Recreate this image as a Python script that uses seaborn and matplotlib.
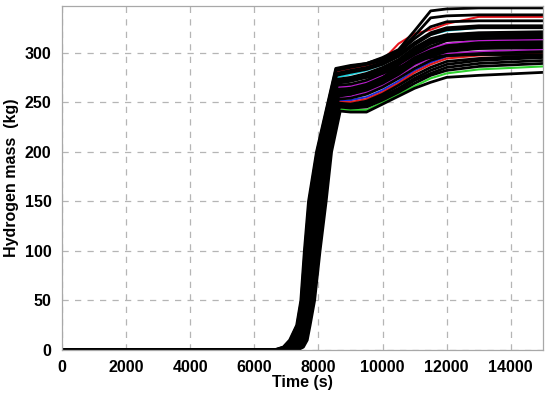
import numpy as np
import pandas as pd
import matplotlib
matplotlib.use("Agg")
import matplotlib.pyplot as plt
import seaborn as sns

# ── Data ──────────────────────────────────────────────────────────────────────
# mass levels crossed during the fast rise, and the time each run crosses them
RISE_MASS = [0, 3, 10, 25, 50, 100, 150, 200]
RISE_TIME = [
    [6600, 6900, 7100, 7320, 7450, 7560, 7690, 7940],
    [6630, 6925, 7122, 7337, 7467, 7580, 7712, 7959],
    [6660, 6950, 7144, 7354, 7484, 7599, 7734, 7978],
    [6690, 6976, 7166, 7370, 7502, 7619, 7756, 7996],
    [6720, 7001, 7188, 7387, 7519, 7638, 7778, 8015],
    [6750, 7026, 7210, 7404, 7536, 7658, 7800, 8034],
    [6780, 7051, 7232, 7421, 7553, 7678, 7822, 8053],
    [6810, 7076, 7254, 7438, 7570, 7697, 7844, 8072],
    [6840, 7102, 7276, 7454, 7588, 7717, 7866, 8090],
    [6870, 7127, 7298, 7471, 7605, 7736, 7888, 8109],
    [6900, 7152, 7320, 7488, 7622, 7756, 7910, 8128],
    [6930, 7177, 7342, 7505, 7639, 7776, 7932, 8147],
    [6960, 7202, 7364, 7522, 7656, 7795, 7954, 8166],
    [6990, 7228, 7386, 7538, 7674, 7815, 7976, 8184],
    [7020, 7253, 7408, 7555, 7691, 7834, 7998, 8203],
    [7050, 7278, 7430, 7572, 7708, 7854, 8020, 8222],
    [7080, 7303, 7452, 7589, 7725, 7874, 8042, 8241],
    [7110, 7328, 7474, 7606, 7742, 7893, 8064, 8260],
    [7140, 7354, 7496, 7622, 7760, 7913, 8086, 8278],
    [7170, 7379, 7518, 7639, 7777, 7932, 8108, 8297],
    [7200, 7404, 7540, 7656, 7794, 7952, 8130, 8316],
    [7230, 7429, 7562, 7673, 7811, 7972, 8152, 8335],
    [7260, 7454, 7584, 7690, 7828, 7991, 8174, 8354],
    [7290, 7480, 7606, 7706, 7846, 8011, 8196, 8372],
    [7320, 7505, 7628, 7723, 7863, 8030, 8218, 8391],
    [7350, 7530, 7650, 7740, 7880, 8050, 8240, 8410],
    [6825, 7089, 7265, 7446, 7579, 7707, 7855, 8081],
    [7125, 7341, 7485, 7614, 7751, 7903, 8075, 8269],
]

# end of the rise (sharp knee)
KNEE_TIME = [8540, 8545, 8550, 8555, 8560, 8565, 8570, 8575, 8580, 8585,
             8590, 8595, 8600, 8605, 8610, 8615, 8620, 8625, 8630, 8635,
             8640, 8645, 8650, 8655, 8665, 8680, 8578, 8628]
KNEE_MASS = [284, 283, 282, 281, 279, 277, 275, 273, 271, 269,
             267, 265, 263, 261, 259, 257, 255, 253, 251, 250,
             249, 247, 246, 245, 243, 241, 272, 256]

# slow growth afterwards
PLATEAU_TIME = [9000, 9500, 10000, 10500, 11000, 11500, 12000, 13000, 15000]
PLATEAU_MASS = [
    [287, 289, 295, 303, 322, 342, 344, 345, 345],
    [286, 289, 294, 301, 317, 335, 337, 338, 338],
    [285, 288, 292, 300, 314, 326, 331, 332, 332],
    [284, 287, 292, 309, 319, 323, 329, 336, 336],
    [282, 285, 290, 298, 310, 320, 325, 327, 327],
    [280, 283, 288, 296, 308, 318, 323, 325, 325],
    [278, 282, 288, 298, 309, 318, 322, 325, 326],
    [275, 279, 285, 293, 305, 314, 318, 320, 321],
    [273, 277, 283, 291, 302, 311, 316, 318, 319],
    [271, 275, 281, 290, 300, 309, 314, 316, 317],
    [268, 272, 279, 288, 298, 306, 312, 314, 315],
    [266, 270, 277, 286, 297, 304, 309, 312, 313],
    [264, 268, 275, 284, 295, 302, 307, 310, 311],
    [262, 266, 273, 282, 293, 300, 305, 308, 309],
    [260, 264, 271, 280, 291, 298, 303, 306, 307],
    [258, 262, 269, 278, 289, 296, 301, 304, 305],
    [256, 260, 267, 276, 287, 294, 299, 301, 303],
    [254, 258, 265, 274, 284, 292, 297, 299, 301],
    [252, 255, 262, 271, 282, 290, 296, 298, 299],
    [250, 253, 260, 269, 280, 288, 294, 297, 299],
    [248, 251, 258, 267, 277, 285, 291, 294, 297],
    [246, 249, 256, 264, 274, 282, 288, 292, 295],
    [245, 247, 254, 262, 272, 279, 285, 289, 292],
    [244, 245, 252, 260, 269, 277, 282, 286, 289],
    [242, 242, 250, 258, 266, 274, 279, 283, 286],
    [240, 240, 248, 256, 264, 270, 275, 277, 280],
    [273, 275, 279, 285, 292, 295, 297, 298, 298],
    [258, 263, 274, 288, 303, 312, 316, 318, 320],
]

RUN_COLOR = ["black", "black", "black", "#e8141c", "black", "black", "#19d3e0",
             "black", "black", "black", "black", "#c21bd6", "black", "black",
             "black", "black", "#b41ec8", "black", "#1b2ee0", "#e01b1b",
             "black", "black", "black", "black", "#2fd12f", "black", "black",
             "black"]

# ── Long table for seaborn ────────────────────────────────────────────────────
rows = []
for i in range(len(RISE_TIME)):
    t = [0] + RISE_TIME[i] + [KNEE_TIME[i]] + PLATEAU_TIME
    m = [0] + RISE_MASS + [KNEE_MASS[i]] + PLATEAU_MASS[i]
    for tt, mm in zip(t, m):
        rows.append((f"run{i:02d}", tt, mm, RUN_COLOR[i]))
df = pd.DataFrame(rows, columns=["run", "time", "mass", "color"])

palette = {f"run{i:02d}": c for i, c in enumerate(RUN_COLOR)}
df_col = df[df["color"] != "black"]
df_blk = df[df["color"] == "black"]

# ── Style ─────────────────────────────────────────────────────────────────────
sns.set_theme(style="white")
plt.rcParams["font.family"] = ["Liberation Sans", "DejaVu Sans"]
plt.rcParams["font.weight"] = "bold"
plt.rcParams["text.color"] = "black"
plt.rcParams["axes.labelcolor"] = "black"

fig, ax = plt.subplots(figsize=(5.5, 3.96), dpi=100)
fig.subplots_adjust(left=0.1127, right=0.987, top=0.985, bottom=0.116)

# coloured runs first, mostly hidden under the black ones
sns.lineplot(
    data=df_col, x="time", y="mass", hue="run", units="run",
    estimator=None, errorbar=None, sort=False,
    palette=palette, legend=False, linewidth=1.5, ax=ax,
)
sns.lineplot(
    data=df_blk, x="time", y="mass", units="run",
    estimator=None, errorbar=None, sort=False,
    color="black", legend=False, linewidth=2.0, ax=ax,
)

ax.set_xlim(0, 15000)
ax.set_ylim(0, 347)
ax.set_xticks(np.arange(0, 15000, 2000))
ax.set_yticks(np.arange(0, 301, 50))

ax.grid(True, linestyle=(0, (5, 5)), color="#b5b5b5", linewidth=0.9)
ax.set_axisbelow(True)

for sp in ax.spines.values():
    sp.set_color("#a8a8a8")
    sp.set_linewidth(0.9)

ax.tick_params(axis="both", direction="out", length=3.5, width=0.8,
               color="#a8a8a8", pad=4, labelsize=11.5, labelcolor="black")
for lab in ax.get_xticklabels() + ax.get_yticklabels():
    lab.set_fontweight("bold")

ax.set_xlabel("Time (s)", fontsize=11.5, fontweight="bold", labelpad=0)
ax.set_ylabel("Hydrogen mass  (kg)", fontsize=11.5, fontweight="bold", labelpad=4)

fig.savefig("out.png", dpi=100)
